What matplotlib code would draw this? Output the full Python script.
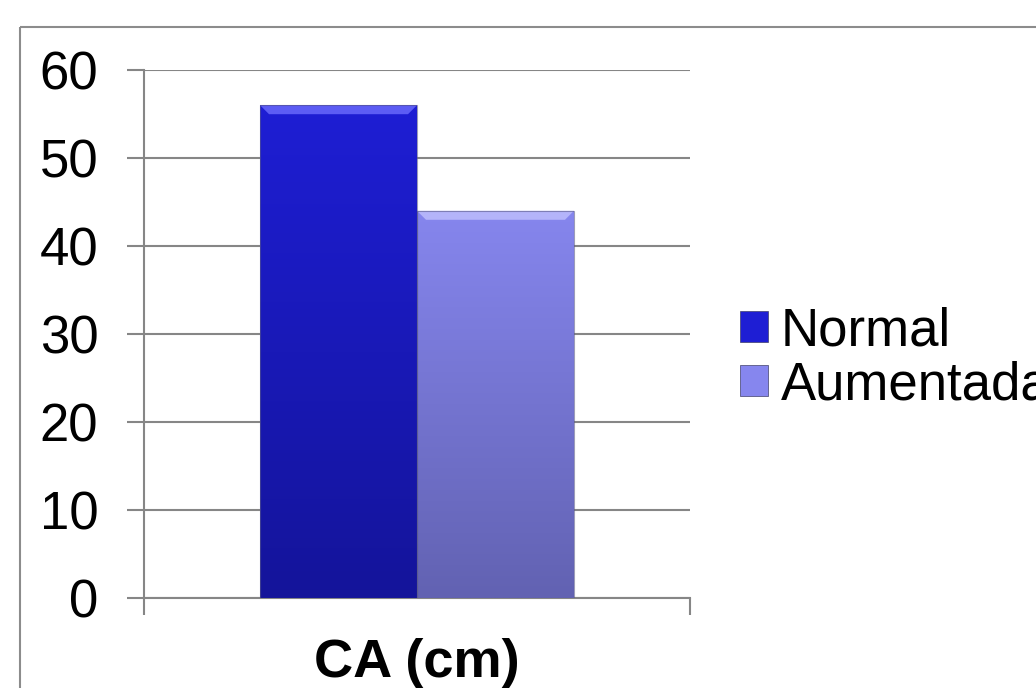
import numpy as np
import matplotlib
matplotlib.use("Agg")
from matplotlib import pyplot as plt
from matplotlib.patches import Patch, Polygon, Rectangle
from matplotlib.colors import LinearSegmentedColormap

plt.rcParams['font.family'] = ['Liberation Sans', 'DejaVu Sans']

category = "CA (cm)"
series = ["Normal", "Aumentada"]
values = [56, 44]
top_colors = ["#1e1ed4", "#8686ee"]
bottom_colors = ["#14149a", "#6262b2"]
bevel_colors = ["#5c5cf4", "#b4b4fa"]
yticks = [0, 10, 20, 30, 40, 50, 60]

W, H = 1036, 688
fig = plt.figure(figsize=(W / 100, H / 100), dpi=100)
ax = fig.add_axes([144 / W, 1 - 598 / H, 546 / W, 528 / H])

# outer chart frame (clipped by the canvas on right/bottom)
fig.patches.append(Rectangle((20 / W, 1 - 27 / H), 2, -2, transform=fig.transFigure,
                             fill=False, edgecolor='#8c8c8c', linewidth=1.5))

bw = 0.2875
xs = [-bw / 2, bw / 2]
bars = ax.bar(xs, values, width=bw, facecolor='none', edgecolor='none', zorder=3)
grad = np.linspace(0, 1, 256).reshape(-1, 1)
px_x = 1.0 / 546   # data units per pixel in x
px_y = 60.0 / 528  # data units per pixel in y
for i, b in enumerate(bars):
    x0, w, h = b.get_x(), b.get_width(), b.get_height()
    cmap = LinearSegmentedColormap.from_list("g%d" % i, [bottom_colors[i], top_colors[i]])
    im = ax.imshow(grad, cmap=cmap, extent=(x0, x0 + w, 0, h), origin='lower',
                   aspect='auto', zorder=3)
    im.set_clip_path(b)
    bx, by = 9 * px_x, 9 * px_y
    ax.add_patch(Polygon([(x0, h), (x0 + w, h), (x0 + w - bx, h - by), (x0 + bx, h - by)],
                         closed=True, facecolor=bevel_colors[i], edgecolor='none', zorder=4))
    ax.add_patch(Rectangle((x0, 0), w, h, fill=False, edgecolor='#5a5a8a', linewidth=0.8,
                           alpha=0.6, zorder=5))
ax.set_xlim(-0.5, 0.5)
ax.set_ylim(0, 60)

ax.set_yticks(yticks)
ax.yaxis.grid(True, color='#868686', linewidth=1.5)
ax.set_axisbelow(True)
for s in ['top', 'right']:
    ax.spines[s].set_visible(False)
for s in ['left', 'bottom']:
    ax.spines[s].set_color('#868686')
    ax.spines[s].set_linewidth(1.5)
ax.tick_params(axis='y', length=12, width=1.5, color='#868686', labelsize=38, pad=21)

ax.set_xticks([0])
ax.set_xticklabels([category], fontsize=39, fontweight='bold')
ax.set_xticks([-0.5, 0.5], minor=True)
ax.tick_params(axis='x', which='major', length=0, pad=29)
ax.tick_params(axis='x', which='minor', length=12, width=1.5, color='#868686')

handles = [Patch(facecolor=top_colors[i], edgecolor='#40406a', linewidth=0.5) for i in range(2)]
fig.legend(handles, series, loc='upper left', bbox_to_anchor=(740 / W, 1 - 306 / H),
           frameon=False, fontsize=38, handlelength=0.53, handleheight=0.53,
           handletextpad=0.24, labelspacing=0.08, borderaxespad=0, borderpad=0)

fig.savefig("out.png", dpi=100)
